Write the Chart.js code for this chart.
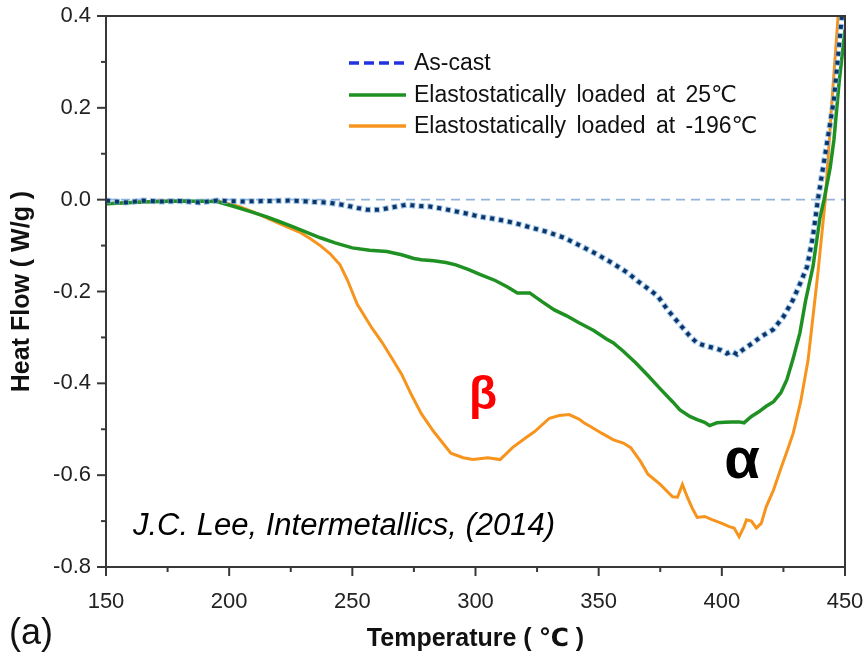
<!DOCTYPE html>
<html><head><meta charset="utf-8">
<script src="https://cdn.jsdelivr.net/npm/chart.js@4.4.0/dist/chart.umd.min.js"></script>
<style>html,body{margin:0;padding:0;background:#fff;}#wrap{width:868px;height:654px;}</style>
</head><body><div id="wrap"><canvas id="c" width="868" height="654"></canvas></div>
<script>
const seriesNames = ['As-cast', 'Elastostatically loaded at 25℃', 'Elastostatically loaded at -196℃'];

const asCastT  = [150,158,165,172,180,188,195,205,215,225,235,241,247,252,256,261,266,272,277,281.5,287,292.5,297,301.8,308,315.2,322,329,336,342.4,349,355.8,362,366,369.6,374,378,383,387,389.9,393,396,399.3,402,404,406.2,409,412.6,416,420.8,425,428.9,432,434.6,437,439,442,445.5,448.8];
const asCastHF = [-0.002,-0.006,-0.002,-0.004,-0.003,-0.006,-0.002,-0.004,-0.003,-0.002,-0.005,-0.007,-0.012,-0.018,-0.022,-0.022,-0.017,-0.011,-0.014,-0.015,-0.020,-0.026,-0.031,-0.037,-0.042,-0.050,-0.060,-0.070,-0.083,-0.100,-0.118,-0.139,-0.160,-0.178,-0.192,-0.210,-0.240,-0.272,-0.297,-0.312,-0.318,-0.322,-0.327,-0.335,-0.330,-0.337,-0.325,-0.312,-0.298,-0.283,-0.255,-0.218,-0.180,-0.146,-0.080,0.000,0.100,0.218,0.403];

const rt25T  = [150,165,180,195,202,208,215,220,226,231,237,243,250,257,264,270,275,278,283,288,292,297,302,308,313,317,322,327,332,337,342,348,353,356,360,365,370,375,380,383,387,390,393,395,398,401,404,407,409,412,415,418,421,424,426.4,429,431.7,434,437,439.8,441.5,444,445.5,447.6,450];
const rt25HF = [-0.009,-0.005,-0.003,-0.004,-0.015,-0.025,-0.037,-0.047,-0.059,-0.070,-0.083,-0.094,-0.105,-0.110,-0.113,-0.120,-0.128,-0.131,-0.133,-0.137,-0.142,-0.152,-0.163,-0.176,-0.190,-0.203,-0.203,-0.222,-0.240,-0.253,-0.268,-0.285,-0.303,-0.312,-0.330,-0.355,-0.383,-0.412,-0.440,-0.458,-0.472,-0.479,-0.485,-0.492,-0.486,-0.485,-0.484,-0.484,-0.486,-0.472,-0.462,-0.450,-0.440,-0.420,-0.392,-0.345,-0.290,-0.220,-0.146,-0.040,0.000,0.070,0.130,0.255,0.370];

const ln196T  = [150,160,172,185,196,204,210,217,223,229,233,237,241,245,248,252,258,262,266,270,274,278,283,290,295,299,305,310,315,320,324,330,334,338,342,344,347,351,356,360,363,367,370,375,380,382,384,386,388,390,393,396,400,403,405,407,409,410,412,414,416,418,421,424,427,429,432,435,437,439,442,444.5,447.2];
const ln196HF = [-0.009,-0.006,-0.003,-0.004,-0.004,-0.015,-0.027,-0.044,-0.058,-0.072,-0.085,-0.100,-0.118,-0.142,-0.175,-0.228,-0.280,-0.310,-0.345,-0.380,-0.425,-0.466,-0.505,-0.552,-0.562,-0.566,-0.562,-0.566,-0.540,-0.520,-0.505,-0.476,-0.470,-0.468,-0.478,-0.486,-0.495,-0.508,-0.523,-0.530,-0.540,-0.570,-0.598,-0.620,-0.647,-0.648,-0.620,-0.648,-0.672,-0.692,-0.690,-0.697,-0.705,-0.712,-0.715,-0.734,-0.712,-0.697,-0.700,-0.715,-0.705,-0.669,-0.632,-0.585,-0.540,-0.508,-0.440,-0.350,-0.255,-0.160,0.000,0.200,0.400];

const baselineT  = [150, 450];
const baselineHF = [0, 0];

const xTicks = [150, 200, 250, 300, 350, 400, 450];
const xMinorTicks = [175, 225, 275, 325, 375, 425];
const yTicks = [-0.8, -0.6, -0.4, -0.2, 0.0, 0.2, 0.4];
const yMinorTicks = [-0.7, -0.5, -0.3, -0.1, 0.1, 0.3];

const pts = (xs, ys) => xs.map((x, i) => ({x: x, y: ys[i]}));

const FONT = '"Liberation Sans", Arial, "DejaVu Sans", sans-serif';

const decor = {
  id: 'decor',
  afterDraw(chart) {
    const {ctx, chartArea: a, scales: {x, y}} = chart;
    ctx.save();
    ctx.strokeStyle = '#383838';
    ctx.lineWidth = 2;
    ctx.strokeRect(a.left, a.top, a.right - a.left, a.bottom - a.top);
    const line = (x1, y1, x2, y2) => { ctx.beginPath(); ctx.moveTo(x1, y1); ctx.lineTo(x2, y2); ctx.stroke(); };
    xTicks.forEach(v => { const p = x.getPixelForValue(v); line(p, a.bottom, p, a.bottom + 9); });
    xMinorTicks.forEach(v => { const p = x.getPixelForValue(v); line(p, a.bottom, p, a.bottom + 5); });
    yTicks.forEach(v => { const p = y.getPixelForValue(v); line(a.left - 9, p, a.left, p); });
    yMinorTicks.forEach(v => { const p = y.getPixelForValue(v); line(a.left - 5, p, a.left, p); });

    const leg = [
      {color: '#2233dd', dash: [10, 5], width: 3.5},
      {color: '#1f9122', dash: [], width: 3.5},
      {color: '#f7941d', dash: [], width: 3.5}
    ];
    const ly = [63, 95, 126];
    ctx.font = '23px ' + FONT;
    ctx.textBaseline = 'middle';
    ctx.textAlign = 'left';
    if ('wordSpacing' in ctx) ctx.wordSpacing = '4px';
    seriesNames.forEach((name, i) => {
      ctx.strokeStyle = leg[i].color;
      ctx.lineWidth = leg[i].width;
      ctx.setLineDash(leg[i].dash);
      line(349, ly[i], 406, ly[i]);
      ctx.setLineDash([]);
      ctx.fillStyle = '#111';
      ctx.fillText(name, 414, ly[i] + 1);
    });
    if ('wordSpacing' in ctx) ctx.wordSpacing = '0px';

    ctx.textAlign = 'center';
    ctx.fillStyle = '#ff0000';
    ctx.font = 'bold 46px ' + FONT;
    ctx.fillText('β', 483, 396);
    ctx.fillStyle = '#000';
    ctx.font = 'bold 58px ' + FONT;
    ctx.fillText('α', 742, 462);
    ctx.textAlign = 'left';
    ctx.textBaseline = 'alphabetic';
    ctx.font = 'italic 31px ' + FONT;
    ctx.fillStyle = '#000';
    ctx.fillText('J.C. Lee, Intermetallics, (2014)', 133, 535);
    ctx.font = '36px ' + FONT;
    ctx.fillStyle = '#111';
    ctx.fillText('(a)', 9, 644);
    ctx.restore();
  }
};

new Chart(document.getElementById('c'), {
  type: 'line',
  data: {
    datasets: [
      {label: 'baseline', data: pts(baselineT, baselineHF), borderColor: '#93b3da', borderWidth: 1.6, borderDash: [9, 6], pointRadius: 0, order: 5},
      {label: seriesNames[2], data: pts(ln196T, ln196HF), borderColor: '#f7941d', borderWidth: 3, pointRadius: 0, tension: 0, order: 4},
      {label: seriesNames[1], data: pts(rt25T, rt25HF), borderColor: '#1f9122', borderWidth: 3.5, pointRadius: 0, tension: 0, order: 3},
      {label: seriesNames[0] + ' halo', data: pts(asCastT, asCastHF), borderColor: 'rgba(120,175,228,0.7)', borderWidth: 6, borderDash: [6, 3], borderDashOffset: 1, pointRadius: 0, tension: 0, order: 2},
      {label: seriesNames[0], data: pts(asCastT, asCastHF), borderColor: '#0c3466', borderWidth: 4, borderDash: [4, 5], pointRadius: 0, tension: 0, order: 1}
    ]
  },
  options: {
    responsive: false,
    animation: false,
    devicePixelRatio: 1,
    layout: {padding: {top: 16, right: 23, left: 0, bottom: 0}},
    plugins: {legend: {display: false}, tooltip: {enabled: false}},
    scales: {
      x: {
        type: 'linear', min: 150, max: 450,
        afterBuildTicks: s => { s.ticks = xTicks.map(v => ({value: v})); },
        afterFit: s => { s.height = 87; },
        grid: {display: true, drawOnChartArea: false, drawTicks: true, tickLength: 22, tickColor: 'rgba(0,0,0,0)'},
        border: {display: false},
        ticks: {color: '#222', font: {family: FONT, size: 22}, padding: 0, maxRotation: 0, callback: v => String(v)},
        title: {display: true, text: 'Temperature ( ℃ )', color: '#111', font: {family: FONT, size: 25, weight: 'bold'}, padding: {top: 0, bottom: 0}}
      },
      y: {
        type: 'linear', min: -0.8, max: 0.4,
        afterBuildTicks: s => { s.ticks = yTicks.map(v => ({value: v})); },
        afterFit: s => { s.width = 106; },
        grid: {display: true, drawOnChartArea: false, drawTicks: true, tickLength: 15, tickColor: 'rgba(0,0,0,0)'},
        border: {display: false},
        ticks: {color: '#222', font: {family: FONT, size: 22}, padding: 0, callback: v => Number(v).toFixed(1)},
        title: {display: true, text: 'Heat Flow ( W/g )', color: '#111', font: {family: FONT, size: 25, weight: 'bold'}, padding: {top: 7, bottom: 0}}
      }
    }
  },
  plugins: [decor]
});
</script>
</body></html>
